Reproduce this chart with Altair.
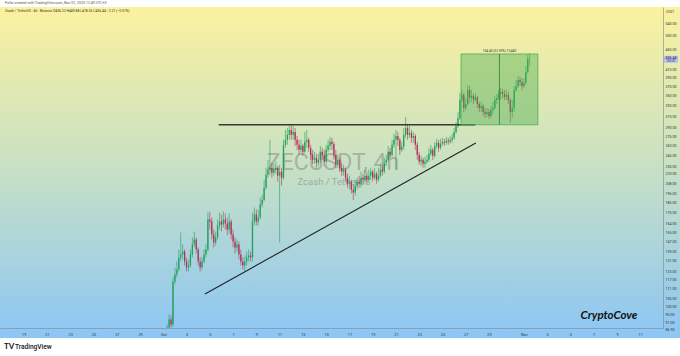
import altair as alt
import pandas as pd

# ---- data (ZECUSDT 4h candles, Oct 1 04:00 UTC onward) ----
first_open = 81.0
closes = [
    83.1, 88.2, 92.5, 89.8, 116.0, 120.9, 124.5, 133.8, 136.2, 138.6,
    130.6, 126.0, 127.5, 136.2, 144.5, 148.9, 140.3, 130.6, 126.0, 130.6,
    136.2, 140.3, 167.7, 165.7, 153.4, 146.3, 150.7, 161.8, 165.7, 162.7,
    167.7, 163.7, 158.0, 165.7, 153.4, 147.1, 142.0, 144.5, 136.2, 130.6,
    127.5, 130.6, 133.8, 135.4, 133.8, 165.7, 172.7, 165.7, 169.7, 183.3,
    188.3, 202.7, 218.9, 225.5, 228.2, 221.5, 225.5, 228.2, 217.6, 222.8,
    215.0, 261.5, 269.4, 277.5, 285.8, 277.5, 282.4, 269.4, 261.5, 253.8,
    259.9, 250.8, 266.2, 269.4, 256.9, 246.4, 239.2, 242.1, 235.0, 239.2,
    250.8, 246.4, 236.4, 253.8, 259.9, 266.2, 263.0, 246.4, 232.2, 239.2,
    228.2, 222.8, 225.5, 215.0, 207.5, 210.0, 200.3, 196.8, 205.1, 210.0,
    207.5, 215.0, 212.5, 217.6, 212.5, 217.6, 222.8, 215.0, 220.2, 212.5,
    217.6, 225.5, 222.8, 235.0, 239.2, 250.8, 246.4, 261.5, 269.4, 275.8,
    269.4, 253.8, 258.4, 277.5, 289.2, 277.5, 280.8, 272.6, 275.8, 261.5,
    246.4, 236.4, 239.2, 233.6, 236.4, 239.2, 247.9, 253.8, 245.0, 259.9,
    264.6, 256.9, 263.0, 266.2, 264.6, 267.8, 266.2, 269.4, 272.6, 282.4,
    292.7, 306.9, 341.5, 351.9, 325.7, 333.5, 362.5, 345.6, 349.8, 341.5,
    347.7, 333.5, 325.7, 329.6, 318.0, 314.3, 318.0, 310.5, 321.8, 325.7,
    341.5, 345.6, 354.0, 358.2, 354.0, 347.7, 351.9, 341.5, 318.0, 325.7,
    362.5, 371.2, 384.7, 380.1, 371.2, 378.0, 403.5, 436.22, 436.44,
]
highs = [
    84.6, 89.8, 95.3, 94.7, 118.8, 126.0, 130.6, 140.3, 155.2, 144.5,
    140.3, 133.8, 132.2, 140.3, 150.7, 156.1, 150.7, 142.0, 133.8, 133.8,
    140.3, 144.5, 174.8, 175.8, 169.7, 158.0, 156.1, 167.7, 174.8, 172.7,
    175.8, 173.8, 169.7, 173.8, 167.7, 158.0, 150.7, 148.9, 147.1, 140.3,
    133.8, 135.4, 138.6, 140.3, 138.6, 174.8, 180.1, 177.9, 177.9, 191.1,
    194.5, 212.5, 228.2, 239.2, 269.4, 235.0, 233.6, 236.4, 230.9, 232.2,
    228.2, 269.4, 285.8, 289.2, 294.4, 296.2, 292.7, 289.2, 275.8, 269.4,
    269.4, 263.0, 282.4, 285.8, 272.6, 261.5, 253.8, 250.8, 247.9, 247.9,
    259.9, 256.9, 253.8, 261.5, 269.4, 274.2, 272.6, 266.2, 253.8, 246.4,
    242.1, 235.0, 232.2, 228.2, 220.2, 217.6, 212.5, 206.3, 212.5, 215.0,
    217.6, 222.8, 220.2, 225.5, 222.8, 225.5, 228.2, 225.5, 228.2, 222.8,
    228.2, 233.6, 230.9, 242.1, 246.4, 259.9, 256.9, 269.4, 279.1, 285.8,
    282.4, 272.6, 266.2, 289.2, 308.7, 296.2, 292.7, 285.8, 282.4, 279.1,
    266.2, 250.8, 245.0, 242.1, 243.5, 246.4, 256.9, 261.5, 256.9, 266.2,
    271.0, 269.4, 271.0, 272.6, 271.0, 274.2, 272.6, 275.8, 279.1, 289.2,
    299.7, 318.0, 356.1, 362.5, 356.1, 345.6, 373.4, 371.2, 362.5, 354.0,
    356.1, 349.8, 337.5, 337.5, 333.5, 325.7, 325.7, 323.7, 329.6, 337.5,
    349.8, 354.0, 362.5, 366.8, 364.6, 362.5, 362.5, 358.2, 345.6, 341.5,
    371.2, 384.7, 393.9, 391.6, 389.3, 389.3, 418.1, 446.4, 449.88,
]
lows = [
    80.0, 82.1, 87.2, 88.2, 88.7, 113.9, 118.8, 123.1, 130.6, 132.2,
    127.5, 123.1, 123.1, 126.0, 133.8, 142.0, 137.0, 127.5, 123.1, 124.5,
    129.1, 133.8, 138.6, 158.0, 148.9, 142.0, 143.7, 148.9, 158.0, 156.1,
    159.9, 158.0, 152.5, 154.3, 148.9, 142.0, 137.0, 138.6, 132.2, 127.5,
    124.5, 123.1, 127.5, 130.6, 130.6, 130.6, 161.8, 161.8, 161.8, 167.7,
    180.1, 186.6, 200.3, 215.0, 218.9, 215.0, 217.6, 220.2, 210.0, 146.3,
    205.1, 212.5, 256.9, 261.5, 269.4, 269.4, 269.4, 259.9, 253.8, 246.4,
    249.4, 245.0, 249.4, 256.9, 250.8, 239.2, 233.6, 233.6, 228.2, 230.9,
    235.0, 239.2, 230.9, 232.2, 250.8, 253.8, 253.8, 239.2, 228.2, 228.2,
    222.8, 217.6, 217.6, 210.0, 202.7, 200.3, 195.6, 188.3, 193.3, 200.3,
    202.7, 202.7, 207.5, 210.0, 207.5, 210.0, 212.5, 210.0, 212.5, 207.5,
    210.0, 215.0, 217.6, 220.2, 230.9, 236.4, 242.1, 243.5, 256.9, 225.5,
    259.9, 246.4, 250.8, 253.8, 272.6, 269.4, 272.6, 264.6, 264.6, 253.8,
    239.2, 232.2, 230.9, 228.2, 228.2, 233.6, 236.4, 245.0, 239.2, 242.1,
    255.4, 250.8, 253.8, 259.9, 259.9, 261.5, 261.5, 263.0, 264.6, 269.4,
    279.1, 289.2, 303.3, 337.5, 318.0, 321.8, 329.6, 335.5, 337.5, 333.5,
    337.5, 325.7, 318.0, 318.0, 310.5, 306.9, 308.7, 305.1, 306.9, 314.3,
    321.8, 333.5, 341.5, 341.5, 345.6, 341.5, 341.5, 333.5, 297.9, 306.9,
    318.0, 358.2, 366.8, 371.2, 362.5, 366.8, 373.4, 398.7, 418.36,
]

price_ticks = [540, 500, 460, 410, 390, 370, 350, 330, 310, 290, 275, 260, 245,
               230, 220, 208, 196, 185, 175, 164, 155, 147, 139, 131, 123, 117,
               111, 105, 100, 95, 91]
date_ticks = ["2025-09-19", "2025-09-21", "2025-09-23", "2025-09-25", "2025-09-27",
              "2025-09-29", "2025-10-01", "2025-10-03", "2025-10-05", "2025-10-07",
              "2025-10-09", "2025-10-11", "2025-10-13", "2025-10-15", "2025-10-17",
              "2025-10-19", "2025-10-21", "2025-10-23", "2025-10-25", "2025-10-27",
              "2025-10-29", "2025-11-01", "2025-11-03", "2025-11-05", "2025-11-07",
              "2025-11-09", "2025-11-11"]

trend_t = ["2025-10-04T13:55:00Z", "2025-10-27T20:47:00Z"]
trend_p = [107.6, 264.4]
resist_t = ["2025-10-05T18:23:00Z", "2025-10-27T20:00:00Z"]
resist_p = 294.7
box_t = ["2025-10-26T14:17:00Z", "2025-11-02T04:48:00Z"]
box_mid_t = "2025-10-29T21:33:00Z"
box_p = [294.7, 449.1]
box_label = "154.40 (52.39%) 15,440"
last_price = 436.44
bottom_price = 86.90

# ---- frames ----
times = pd.date_range("2025-10-01 04:00", periods=len(closes), freq="4h", tz="UTC")
opens = [first_open] + closes[:-1]
df = pd.DataFrame({
    "t": times.strftime("%Y-%m-%dT%H:%M:%SZ"),
    "open": opens, "high": highs, "low": lows, "close": closes,
})


def ms(s):
    ts = pd.Timestamp(s)
    if ts.tzinfo is None:
        ts = ts.tz_localize("UTC")
    return int(ts.timestamp() * 1000)


UP = "#22a05a"
DOWN = "#b3305c"
AXIS_C = "#7b8794"

x_scale = alt.Scale(type="utc", domain=[ms("2025-09-17T09:23"), ms("2025-11-12T12:43")])
x_axis = alt.Axis(
    values=[ms(d) for d in date_ticks],
    labelExpr="utcdate(datum.value) == 1 ? utcFormat(datum.value, '%b') : toString(utcdate(datum.value))",
    grid=False, ticks=False, domainColor=AXIS_C, domainWidth=0.6,
    labelFontSize=3.8, labelColor="#333", labelFont="Roboto", labelPadding=4,
    title=None, zindex=1, labelOverlap=False, labelFlush=False,
)
y_scale = alt.Scale(type="log", domain=[87.9, 594.0], nice=False, zero=False)
y_axis = alt.Axis(
    orient="right", values=price_ticks, format=".2f", grid=False, ticks=False,
    domainColor=AXIS_C, domainWidth=0.6, labelFontSize=3.6, labelColor="#333",
    labelFont="Roboto", labelPadding=2, title=None, zindex=1,
    labelOverlap=False, labelFlush=False,
)


def X(f):
    return alt.X(f, type="temporal", scale=x_scale, axis=x_axis)


def Y(f):
    return alt.Y(f, type="quantitative", scale=y_scale, axis=y_axis)


one = alt.Data(values=[{}])

gradient = alt.Gradient(
    gradient="linear",
    stops=[alt.GradientStop(offset=0, color="#fbf29f"),
           alt.GradientStop(offset=0.5, color="#c6e0c6"),
           alt.GradientStop(offset=1, color="#8cc6f5")],
    x1=0, x2=0, y1=0, y2=1,
)
bg = alt.Chart(one).mark_rect(fill=gradient).encode(
    x=alt.value(0), x2=alt.value(680), y=alt.value(0), y2=alt.value(331))

wm1 = alt.Chart(one).mark_text(
    text="ZECUSDT, 4h", font="Roboto", fontSize=23, color="#7a7a7a", opacity=0.45,
    align="center", baseline="alphabetic").encode(x=alt.value(333), y=alt.value(163))
wm2 = alt.Chart(one).mark_text(
    text="Zcash / TetherUS", font="Roboto", fontSize=9.5, color="#7a7a7a", opacity=0.5,
    align="center", baseline="alphabetic").encode(x=alt.value(334), y=alt.value(178))

color = alt.condition("datum.close >= datum.open", alt.value(UP), alt.value(DOWN))
base = alt.Chart(df)
wicks = base.mark_rule(strokeWidth=0.6, clip=True).encode(
    x=X("t"), y=Y("low"), y2=alt.Y2("high"), color=color)
bodies = base.mark_bar(size=1.3, clip=True).encode(
    x=X("t"), y=Y("open"), y2=alt.Y2("close"), color=color)

resist = alt.Chart(pd.DataFrame({"t1": [resist_t[0]], "t2": [resist_t[1]], "p": [resist_p]})).mark_rule(
    color="#363a30", strokeWidth=1.3).encode(x=X("t1"), x2=alt.X2("t2"), y=Y("p"))

trend = alt.Chart(pd.DataFrame({"t": trend_t, "p": trend_p})).mark_line(
    color="#1e2326", strokeWidth=1.1).encode(x=X("t"), y=Y("p"))

box_df = pd.DataFrame({"t1": [box_t[0]], "t2": [box_t[1]], "tm": [box_mid_t],
                       "p1": [box_p[0]], "p2": [box_p[1]], "lab": [box_label]})
box = alt.Chart(box_df).mark_rect(fill="#4caf50", fillOpacity=0.42, stroke="#4caf50",
                                  strokeWidth=0.8).encode(
    x=X("t1"), x2=alt.X2("t2"), y=Y("p1"), y2=alt.Y2("p2"))
mid = alt.Chart(box_df).mark_rule(color="#2f7d32", strokeWidth=0.8).encode(
    x=X("tm"), y=Y("p1"), y2=alt.Y2("p2"))
box_txt = alt.Chart(box_df).mark_text(fontSize=3.2, color="#333", dy=-3.5, font="Roboto").encode(
    x=X("tm"), y=Y("p2"), text="lab:N")

price_df = pd.DataFrame({"p": [last_price], "lab": [f"{last_price:.2f}"]})
badge = alt.Chart(price_df).mark_rect(color="#b8bff0", yOffset=-3, y2Offset=4).encode(
    x=alt.value(664), x2=alt.value(678), y=Y("p"), y2=alt.Y2("p"))
badge_txt = alt.Chart(price_df).mark_text(fontSize=3.6, color="#1a1a3a", font="Roboto",
                                          baseline="middle", dy=-0.8).encode(
    x=alt.value(671), y=Y("p"), text="lab:N")
badge_txt2 = alt.Chart(price_df).mark_text(text="03:10", fontSize=3.0, color="#1a1a3a",
                                           font="Roboto", baseline="middle", dy=2.4).encode(
    x=alt.value(671), y=Y("p"))
bottom_txt = alt.Chart(pd.DataFrame({"p": [bottom_price], "lab": [f"{bottom_price:.2f}"]})).mark_text(
    fontSize=3.6, color="#333", font="Roboto", baseline="middle").encode(
    x=alt.value(670), y=Y("p"), text="lab:N")

usdt = alt.Chart(one).mark_text(text="USDT", fontSize=3.4, color="#444", font="Roboto").encode(
    x=alt.value(670), y=alt.value(5))
head1 = alt.Chart(one).mark_text(
    text="Fullie created with TradingView.com, Nov 01, 2025 12:49 UTC+3",
    fontSize=3.6, color="#555", font="Roboto", align="left", baseline="middle").encode(
    x=alt.value(5), y=alt.value(-4))
head2 = alt.Chart(one).mark_text(
    text="Zcash / TetherUS · 4h · Binance   O436.22  H449.88  L418.36  C436.44  −2.21 (−0.51%)",
    fontSize=3.4, color="#333", font="Roboto", align="left", baseline="middle").encode(
    x=alt.value(5), y=alt.value(4))
sig = alt.Chart(one).mark_text(
    text="CryptoCove", font="Lato", fontSize=11.5, fontWeight="bold", fontStyle="italic",
    color="#111", align="center", baseline="alphabetic").encode(x=alt.value(609), y=alt.value(312))
logo = alt.Chart(one).mark_text(
    text="TV", font="Lato", fontSize=8, fontWeight="bold", color="#131722",
    align="left", baseline="middle").encode(x=alt.value(4), y=alt.value(340))
logo2 = alt.Chart(one).mark_text(
    text="TradingView", font="Roboto", fontSize=6.6, fontWeight=500, color="#131722",
    align="left", baseline="middle").encode(x=alt.value(15), y=alt.value(340))

chart = alt.layer(
    bg, wm1, wm2, wicks, bodies, resist, trend, box, mid, box_txt,
    badge, badge_txt, badge_txt2, bottom_txt, usdt, head1, head2, sig, logo, logo2,
).properties(
    width=663, height=321,
    autosize=alt.AutoSizeParams(type="none"),
    padding={"left": 0, "top": 7, "right": 17, "bottom": 28},
    background="white",
).configure_view(stroke=None)

chart.save("out.html", embed_options={"renderer": "svg", "actions": False})
